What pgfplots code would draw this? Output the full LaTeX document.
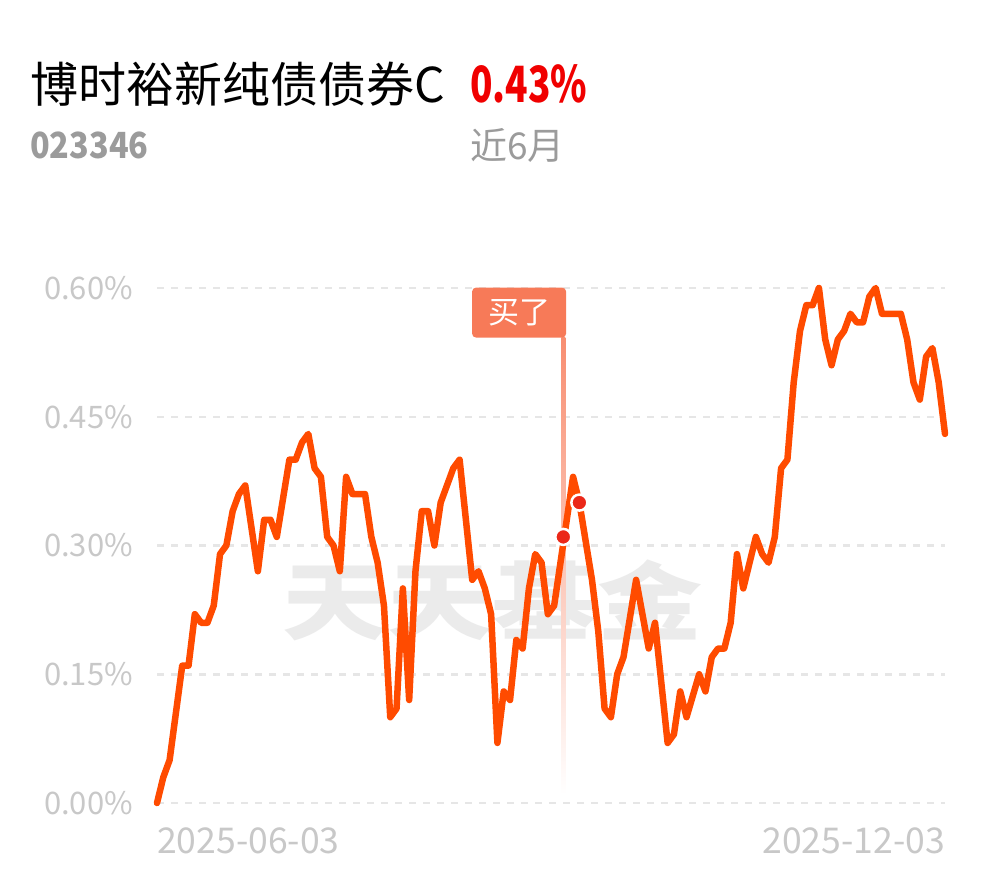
\documentclass[border=0pt]{standalone}
\usepackage{fontspec}
\setmainfont{Noto Sans CJK SC}
\usepackage{pgfplots}
\usepackage{pgfplotstable}
\pgfplotsset{compat=1.18}

\definecolor{lineor}{RGB}{255,75,0}
\definecolor{gridc}{RGB}{230,230,230}
\definecolor{tickc}{RGB}{200,200,200}
\definecolor{tagc}{RGB}{247,122,88}
\definecolor{dotc}{RGB}{235,40,25}
\definecolor{upred}{RGB}{240,0,0}
\definecolor{subgrey}{RGB}{155,155,155}

% trading day index, return since start (%)
\pgfplotstableread{
d v
0 0.00
1 0.03
2 0.05
4 0.16
5 0.16
6 0.22
7 0.21
8 0.21
9 0.23
10 0.29
11 0.30
12 0.34
13 0.36
14 0.37
16 0.27
17 0.33
18 0.33
19 0.31
21 0.40
22 0.40
23 0.42
24 0.43
25 0.39
26 0.38
27 0.31
28 0.30
29 0.27
30 0.38
31 0.36
33 0.36
34 0.31
35 0.28
36 0.23
37 0.10
38 0.11
39 0.25
40 0.12
41 0.27
42 0.34
43 0.34
44 0.30
45 0.35
47 0.39
48 0.40
50 0.26
51 0.27
52 0.25
53 0.22
54 0.07
55 0.13
56 0.12
57 0.19
58 0.18
59 0.25
60 0.29
61 0.28
62 0.22
63 0.23
66 0.38
67 0.35
69 0.26
70 0.20
71 0.11
72 0.10
73 0.15
74 0.17
76 0.26
78 0.18
79 0.21
81 0.07
82 0.08
83 0.13
84 0.10
86 0.15
87 0.13
88 0.17
89 0.18
90 0.18
91 0.21
92 0.29
93 0.25
95 0.31
96 0.29
97 0.28
98 0.31
99 0.39
100 0.40
101 0.49
102 0.55
103 0.58
104 0.58
105 0.60
106 0.54
107 0.51
108 0.54
109 0.55
110 0.57
111 0.56
112 0.56
113 0.59
114 0.60
115 0.57
118 0.57
119 0.54
120 0.49
121 0.47
122 0.52
123 0.53
124 0.49
125 0.43
}\navdata

\begin{document}
\begin{tikzpicture}
\fill[white] (0pt,0pt) rectangle (990pt,878pt);

% header
\node[anchor=base west, inner sep=0pt] at (30pt,775pt)
  {\fontsize{48}{52}\selectfont 博时裕新纯债债券C};
\node[anchor=base west, inner sep=0pt, text=upred] at (470pt,775pt)
  {\scalebox{0.74}[1]{\fontsize{50}{52}\selectfont\bfseries 0.43\%}};
\node[anchor=base west, inner sep=0pt, text=subgrey] at (30pt,719pt)
  {\scalebox{0.9}[1]{\fontsize{36}{40}\selectfont\bfseries 023346}};
\node[anchor=base west, inner sep=0pt, text=subgrey] at (470pt,718pt)
  {\fontsize{37}{40}\selectfont 近6月};

% watermark
\node[text=black!8, inner sep=0pt] at (492pt,278pt)
  {\scalebox{1.05}[0.85]{\fontsize{100}{100}\selectfont\bfseries 天天基金}};

\begin{axis}[
  at={(157pt,75pt)}, anchor=south west,
  scale only axis, width=788pt, height=515pt,
  xmin=0, xmax=125, ymin=0, ymax=0.6,
  axis line style={draw=none},
  tick style={draw=none},
  xtick=\empty,
  ytick={0,0.15,0.3,0.45,0.6},
  yticklabels={0.00\%,0.15\%,0.30\%,0.45\%,0.60\%},
  yticklabel style={text=tickc, font=\fontsize{31}{31}\selectfont,
    anchor=east, inner sep=0pt, xshift=-24pt},
  ymajorgrids,
  grid style={gridc, line width=2.5pt, dash pattern=on 7pt off 7pt},
  clip=false,
]
% buy marker
\shade[top color=tagc!85, bottom color=white]
  ([xshift=-2pt]axis cs:64.45,0.01) rectangle ([xshift=2pt]axis cs:64.45,0.542);
\node[fill=tagc, text=white, anchor=south east, minimum width=94pt,
  minimum height=50pt, inner sep=0pt, rounded corners=4pt,
  font=\fontsize{31}{31}\selectfont] at ([xshift=3pt]axis cs:64.45,0.542) {买了};

\addplot[lineor, line width=6.5pt, line join=round, line cap=round]
  table[x=d, y=v] {\navdata};
\addplot[only marks, mark=*, mark size=8pt,
  mark options={fill=dotc, draw=white, line width=2.5pt}]
  coordinates {(64.45,0.31) (67,0.35)};

\node[anchor=base west, inner sep=0pt, text=tickc, font=\fontsize{35.5}{36}\selectfont]
  at ([yshift=-50pt]rel axis cs:0,0) {2025-06-03};
\node[anchor=base east, inner sep=0pt, text=tickc, font=\fontsize{35.5}{36}\selectfont]
  at ([yshift=-50pt]rel axis cs:1,0) {2025-12-03};
\end{axis}
\end{tikzpicture}
\end{document}
